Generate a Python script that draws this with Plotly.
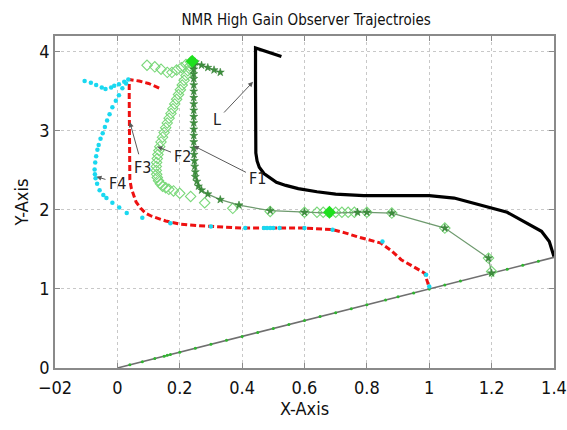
import plotly.graph_objects as go

# Reference trajectory (straight line the followers converge to)
ref_x = [0.0, 1.4]
ref_y = [0.0, 1.4]
ref_dot_x = [0.04, 0.08, 0.12, 0.15, 0.16, 0.17, 0.2, 0.25, 0.3, 0.35, 0.4, 0.45, 0.5, 0.55,
             0.6, 0.65, 0.7, 0.75, 0.8, 0.86, 0.9, 0.95, 1.0, 1.05, 1.1, 1.2, 1.25, 1.3, 1.35]

# Leader
L_x = [0.526, 0.49, 0.443, 0.443, 0.443, 0.443, 0.444, 0.448, 0.455, 0.47, 0.49, 0.51, 0.54,
       0.58, 0.64, 0.70, 0.79, 1.00, 1.08, 1.25, 1.36, 1.385, 1.40]
L_y = [3.94, 3.99, 4.05, 3.60, 3.20, 2.85, 2.72, 2.62, 2.54, 2.46, 2.40, 2.35, 2.31,
       2.27, 2.23, 2.20, 2.18, 2.18, 2.15, 1.97, 1.73, 1.60, 1.41]

# Follower 1 (stars)
F1_x = [1.20, 1.19, 1.05, 0.88, 0.80, 0.77, 0.68, 0.60, 0.49, 0.39, 0.33, 0.29, 0.27, 0.26,
        0.255, 0.25, 0.25, 0.248, 0.247, 0.246, 0.245, 0.245, 0.245, 0.245, 0.245, 0.245,
        0.245, 0.245, 0.245, 0.245, 0.245, 0.245, 0.245, 0.245, 0.245, 0.245, 0.245, 0.25,
        0.27, 0.29, 0.31, 0.33]
F1_y = [1.20, 1.39, 1.77, 1.96, 1.97, 1.97, 1.96, 1.97, 1.99, 2.06, 2.13, 2.20, 2.25, 2.30,
        2.36, 2.42, 2.48, 2.55, 2.62, 2.70, 2.78, 2.86, 2.94, 3.02, 3.10, 3.18, 3.26, 3.34,
        3.42, 3.50, 3.58, 3.66, 3.72, 3.78, 3.83, 3.86, 3.88, 3.87, 3.83, 3.80, 3.77, 3.74]

# Follower 2 (diamonds)
F2_x = [0.095, 0.12, 0.14, 0.16, 0.175, 0.19, 0.205, 0.22, 0.235,
        0.232, 0.226, 0.22, 0.214, 0.208, 0.202, 0.196, 0.19, 0.184, 0.178, 0.172, 0.166,
        0.16, 0.155, 0.15, 0.145, 0.14, 0.136, 0.133, 0.13, 0.128, 0.126, 0.125, 0.125,
        0.126, 0.128, 0.132, 0.138, 0.145, 0.155, 0.165, 0.18, 0.20, 0.235, 0.28, 0.37,
        0.49, 0.60, 0.64, 0.66, 0.70, 0.72, 0.74, 0.76, 0.80, 0.88, 1.05, 1.19, 1.20]
F2_y = [3.83, 3.81, 3.78, 3.74, 3.74, 3.77, 3.80, 3.84, 3.87,
        3.82, 3.76, 3.70, 3.64, 3.58, 3.52, 3.46, 3.40, 3.34, 3.28, 3.22, 3.16,
        3.10, 3.04, 2.98, 2.92, 2.86, 2.80, 2.75, 2.70, 2.65, 2.60, 2.55, 2.50,
        2.45, 2.41, 2.37, 2.33, 2.30, 2.28, 2.26, 2.24, 2.21, 2.17, 2.09, 2.02,
        1.98, 1.97, 1.97, 1.97, 1.97, 1.97, 1.97, 1.97, 1.97, 1.96, 1.77, 1.39, 1.22]
F2_end_x = [0.24, 0.68]
F2_end_y = [3.88, 1.97]

# Follower 3 (dashed)
F3_x = [0.134, 0.10, 0.07, 0.038, 0.038, 0.038, 0.038, 0.038, 0.04, 0.045, 0.052, 0.06, 0.075,
        0.09, 0.11, 0.13, 0.155, 0.20, 0.26, 0.40, 0.60, 0.69, 0.73, 0.77, 0.845, 0.88,
        0.91, 0.95, 0.985, 0.995, 1.0]
F3_y = [3.54, 3.60, 3.63, 3.65, 3.40, 3.10, 2.80, 2.55, 2.38, 2.27, 2.18, 2.10, 2.02,
        1.96, 1.92, 1.89, 1.86, 1.82, 1.80, 1.77, 1.77, 1.75, 1.71, 1.66, 1.58, 1.48,
        1.37, 1.28, 1.20, 1.08, 1.01]

# Follower 4 (dots)
F4_x = [-0.105, -0.085, -0.068, -0.05, -0.038, -0.02, -0.01, 0.005, 0.022, 0.035,
        0.028, 0.016, 0.005, -0.005, -0.016, -0.025, -0.033, -0.04, -0.047, -0.054, -0.06,
        -0.064, -0.068, -0.071, -0.073, -0.072, -0.07, -0.065, -0.057, -0.045, -0.035,
        -0.016, 0.006, 0.03, 0.08, 0.17, 0.30, 0.41, 0.47, 0.48, 0.49, 0.50, 0.52, 0.60,
        0.69, 0.85, 0.99, 1.0]
F4_y = [3.63, 3.61, 3.58, 3.55, 3.53, 3.55, 3.57, 3.59, 3.62, 3.65,
        3.60, 3.54, 3.45, 3.38, 3.30, 3.21, 3.13, 3.05, 2.97, 2.90, 2.82,
        2.76, 2.68, 2.60, 2.51, 2.45, 2.40, 2.33, 2.25, 2.19, 2.15,
        2.09, 2.03, 1.96, 1.90, 1.83, 1.79, 1.77, 1.77, 1.77, 1.77, 1.77, 1.77, 1.77,
        1.75, 1.60, 1.18, 1.03]

# Labels: (text, text_x, text_y, arrow_tip_x, arrow_tip_y)
labels = [
    ("L", 0.32, 3.14, 0.435, 3.62),
    ("F1", 0.45, 2.40, 0.245, 2.81),
    ("F2", 0.21, 2.67, 0.128, 2.80),
    ("F3", 0.08, 2.54, 0.040, 3.11),
    ("F4", 0.00, 2.34, -0.067, 2.42),
]

x_ticks = [-0.2, 0, 0.2, 0.4, 0.6, 0.8, 1.0, 1.2, 1.4]
x_tick_text = ["\u221202", "0", "0.2", "0.4", "0.6", "0.8", "1", "1.2", "1.4"]
y_ticks = [0, 1, 2, 3, 4]

FONT = "DejaVu Sans Condensed, Liberation Sans, sans-serif"

fig = go.Figure()

fig.add_trace(go.Scatter(x=ref_x, y=ref_y, mode="lines",
                         line=dict(color="#6f6f6f", width=1.6), hoverinfo="skip"))
fig.add_trace(go.Scatter(x=ref_dot_x, y=ref_dot_x, mode="markers",
                         marker=dict(color="#2fb52f", size=3), hoverinfo="skip"))

fig.add_trace(go.Scatter(x=L_x, y=L_y, mode="lines",
                         line=dict(color="black", width=3.2)))

fig.add_trace(go.Scatter(x=F2_x, y=F2_y, mode="markers",
                         marker=dict(symbol="diamond-open", color="#7ad87a", size=8,
                                     line=dict(width=1.1))))
fig.add_trace(go.Scatter(x=F1_x, y=F1_y, mode="lines+markers",
                         line=dict(color="#6e9a6e", width=1.2),
                         marker=dict(symbol="star", color="#3f8f3f", size=6,
                                     line=dict(color="#2b7a2b", width=0.5))))
fig.add_trace(go.Scatter(x=F2_end_x, y=F2_end_y, mode="markers",
                         marker=dict(symbol="diamond", color="#1ee01e", size=10)))

fig.add_trace(go.Scatter(x=F3_x, y=F3_y, mode="lines",
                         line=dict(color="#ee1111", width=3, dash="6px,3px")))
fig.add_trace(go.Scatter(x=F4_x, y=F4_y, mode="markers",
                         marker=dict(color="#1ad8f0", size=4.5)))

for text, tx, ty, hx, hy in labels:
    fig.add_annotation(x=hx, y=hy, ax=tx, ay=ty, axref="x", ayref="y",
                       text=text, showarrow=True, arrowhead=2, arrowsize=1,
                       arrowwidth=1, arrowcolor="#5a5a5a", startstandoff=2,
                       font=dict(family=FONT, size=16, color="#222"))

axis_common = dict(showgrid=True, gridcolor="#c8c8c8", griddash="dot", gridwidth=1,
                   zeroline=False, showline=True, linecolor="#8a8a8a", linewidth=1.5,
                   mirror="ticks", ticks="inside", ticklen=5, tickcolor="#8a8a8a",
                   ticklabeloverflow="allow", automargin=False,
                   tickfont=dict(family=FONT, size=18, color="#111"))

fig.update_layout(
    width=567, height=430,
    margin=dict(l=55, r=13, t=36, b=62),
    paper_bgcolor="white", plot_bgcolor="white",
    showlegend=False,
    title=dict(text="NMR High Gain Observer Trajectroies", x=0.54, xanchor="center",
               y=0.955, yanchor="middle",
               font=dict(family=FONT, size=15, color="#111")),
    xaxis=dict(range=[-0.2, 1.4001], tickvals=x_ticks, ticktext=x_tick_text,
               ticklabelstandoff=3,
               title=dict(text="X-Axis", standoff=2,
                          font=dict(family=FONT, size=18, color="#111")),
               **axis_common),
    yaxis=dict(range=[0, 4.2], tickvals=y_ticks,
               title=dict(text="Y-Axis", standoff=6,
                          font=dict(family=FONT, size=18, color="#111")),
               **axis_common),
)

fig.write_html("out.html")
